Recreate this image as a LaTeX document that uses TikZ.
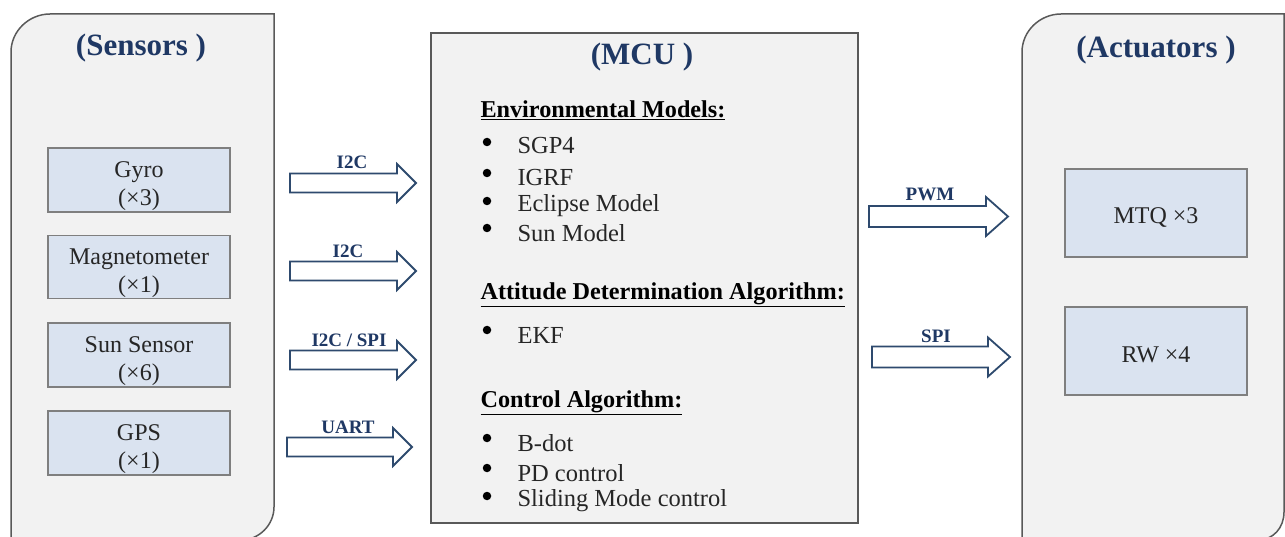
\documentclass[tikz,border=0pt]{standalone}
\usepackage{fontspec}
\setmainfont{Liberation Serif}
\definecolor{panelfill}{HTML}{F2F2F2}
\definecolor{panelline}{HTML}{595959}
\definecolor{boxfill}{HTML}{DAE3F0}
\definecolor{boxline}{HTML}{7F7F7F}
\definecolor{navy}{HTML}{1F3864}
\definecolor{arrowline}{HTML}{2E4A6E}
% tail x, head start x, tip x, y, shaft half height, head half height
\newcommand\blkarrow[6]{%
  \draw[blk] (#1,#4-#5) -- (#2,#4-#5) -- (#2,#4-#6) -- (#3,#4) -- (#2,#4+#6) -- (#2,#4+#5) -- (#1,#4+#5) -- cycle;}
\begin{document}
\begin{tikzpicture}[x=1pt,y=-1pt,
  panel/.style={draw=panelline,fill=panelfill,line width=1.5pt},
  devbox/.style={draw=boxline,fill=boxfill,line width=1.3pt,minimum width=182pt,inner sep=0pt},
  devtext/.style={align=center,font=\fontsize{24}{28}\selectfont,text=black!85},
  title/.style={font=\fontsize{31}{34}\selectfont\bfseries,text=navy},
  head/.style={anchor=west,font=\fontsize{24.2}{28}\selectfont\bfseries,text=black},
  item/.style={anchor=west,font=\fontsize{24.5}{28}\selectfont,text=black!85},
  bul/.style={circle,fill=black,inner sep=0pt,minimum size=8.5pt},
  blk/.style={draw=arrowline,fill=white,line width=1.8pt,line join=miter},
  lbl/.style={font=\fontsize{19}{22}\selectfont\bfseries,text=navy}]
\useasboundingbox[fill=white] (0,0) rectangle (1285,537);
% Sensors panel
\draw[panel] (11,545) -- (11,52) .. controls (11,31) and (29,14) .. (50,14) -- (274,14) -- (274,507)
  .. controls (274,525) and (259,540) .. (241,540) -- cycle;
\node[title] (sens) at (141,48) {(Sensors )};
\node[devbox,minimum height=64pt] (gyro) at (139,180) {};
\node[devtext] (gyrot) at (139,186.5) {Gyro\\(×3)};
\node[devbox,minimum height=63.5pt] (mag) at (139,267) {};
\node[devtext] (magt) at (139,273.5) {Magnetometer\\(×1)};
\node[devbox,minimum height=64pt] (sun) at (139,355) {};
\node[devtext] (sunt) at (139,361.5) {Sun Sensor\\(×6)};
\node[devbox,minimum height=64pt] (gps) at (139,443) {};
\node[devtext] (gpst) at (139,449.5) {GPS\\(×1)};
% MCU
\draw[panel] (431,33) rectangle (858,523);
\node[title] (mcu) at (642,57) {(MCU )};
\node[head] (h1) at (477,110) {\underline{Environmental Models:}};
\node[bul] (b1) at (487,142) {}; \node[item] (i1) at (514,146) {SGP4};
\node[bul] (b2) at (487,173) {}; \node[item] (i2) at (514,178) {IGRF};
\node[bul] (b3) at (487,201) {}; \node[item] (i3) at (514,206) {Eclipse Model};
\node[bul] (b4) at (487,228) {}; \node[item] (i4) at (514,233) {Sun Model};
\node[head] (h2) at (477,295) {\underline{Attitude Determination Algorithm:}};
\node[bul] (b5) at (487,330) {}; \node[item] (i5) at (514,335) {EKF};
\node[head] (h3) at (477,403) {\underline{Control Algorithm:}};
\node[bul] (b6) at (487,438) {}; \node[item] (i6) at (514,443) {B-dot};
\node[bul] (b7) at (487,468) {}; \node[item] (i7) at (514,473) {PD control};
\node[bul] (b8) at (487,496) {}; \node[item] (i8) at (514,501) {Sliding Mode control};
% Actuators panel
\draw[panel] (1022,545) -- (1022,52) .. controls (1022,31) and (1040,14) .. (1061,14) -- (1284,14) -- (1284,512)
  .. controls (1284,528) and (1273,540) .. (1258,540) -- cycle;
\node[title] (act) at (1156,50) {(Actuators )};
\node[devbox,minimum height=88pt] (mtq) at (1156,213) {};
\node[devtext] (mtqt) at (1156,218) {MTQ ×3};
\node[devbox,minimum height=88pt] (rw) at (1156,351) {};
\node[devtext] (rwt) at (1156,355) {RW ×4};
% Block arrows
\blkarrow{290}{397}{416}{183}{9.5}{19}
\blkarrow{290}{397}{416}{271}{9.5}{19}
\blkarrow{290}{397}{416}{360}{9.5}{19}
\blkarrow{287}{393}{412}{447}{9.5}{19}
\blkarrow{869}{986}{1008}{216.5}{10.5}{19.5}
\blkarrow{872}{988}{1010}{357}{10.5}{19.5}
\node[lbl] (l1) at (352,162) {I2C};
\node[lbl] (l2) at (348,251) {I2C};
\node[lbl] (l3) at (349,340) {I2C / SPI};
\node[lbl] (l4) at (348,427) {UART};
\node[lbl] (l5) at (930,194) {PWM};
\node[lbl] (l6) at (936,336) {SPI};
\end{tikzpicture}
\end{document}
